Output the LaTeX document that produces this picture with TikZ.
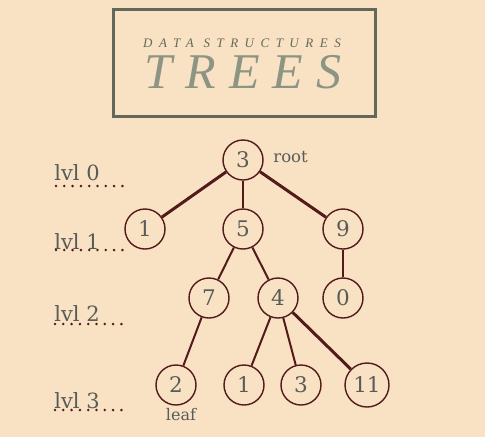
\documentclass[tikz,border=0pt]{standalone}
\usepackage{fontspec}
\setmainfont{DejaVu Serif}
\newfontfamily\titlefont[LetterSpace=50]{Liberation Serif}
\definecolor{paper}{RGB}{249,226,196}
\definecolor{ink}{RGB}{88,92,88}
\definecolor{edge}{RGB}{82,26,26}
\definecolor{frame}{RGB}{100,104,88}
\definecolor{sage}{RGB}{140,148,132}
\tikzset{every picture/.style={line width=0.75pt}}

\begin{document}
\begin{tikzpicture}[x=1pt,y=1pt,yscale=-1,xscale=1,
    vertex/.style={circle,draw=edge,line width=1.4,minimum size=40,inner sep=0pt,text=ink,font=\fontsize{21.5}{21.5}\selectfont},
    thin edge/.style={draw=edge,line width=1.2},
    mid edge/.style={draw=edge,line width=2},
    thick edge/.style={draw=edge,line width=3},
    lvl/.style={anchor=base west,inner sep=0pt,text=ink,font=\fontsize{21}{21}\selectfont},
    dots/.style={draw=edge,line width=2.8,line cap=round,dash pattern=on 0pt off 8.3pt}]
    %set diagram size to the reference
    \useasboundingbox[fill=paper] (0,0) rectangle (485,437);

    %Shape: Title frame
    \draw [frame,line width=3] (113,9) rectangle (375,116);
    % Text Node
    \node (sub) [inner sep=0pt,text=frame] at (242,43) {\titlefont\fontsize{13}{13}\selectfont\itshape DATA STRUCTURES};
    % Text Node
    \node (title) [inner sep=0pt,text=sage] at (243,72) {\titlefont\addfontfeatures{LetterSpace=26}\fontsize{50}{50}\selectfont\itshape TREES};

    %Tree vertices
    \node (n3)  [vertex] at (243,160) {3};
    \node (n1)  [vertex] at (145,229) {1};
    \node (n5)  [vertex] at (243,229) {5};
    \node (n9)  [vertex] at (343,229) {9};
    \node (n7)  [vertex] at (209,298) {7};
    \node (n4)  [vertex] at (278,298) {4};
    \node (n0)  [vertex] at (343,298) {0};
    \node (n2)  [vertex] at (176,385) {2};
    \node (n1b) [vertex] at (244,385) {1};
    \node (n3b) [vertex] at (301,385) {3};
    \node (n11) [vertex,minimum size=44] at (367,385) {11};

    %Tree edges
    \draw [thick edge] (n3) -- (n1);
    \draw [thin edge]  (n3) -- (n5);
    \draw [thick edge] (n3) -- (n9);
    \draw [mid edge]   (n5) -- (n7);
    \draw [mid edge]   (n5) -- (n4);
    \draw [thin edge]  (n9) -- (n0);
    \draw [mid edge]   (n7) -- (n2);
    \draw [mid edge]   (n4) -- (n1b);
    \draw [mid edge]   (n4) -- (n3b);
    \draw [thick edge] (n4) -- (n11);

    % Text Node
    \node (root) [anchor=west,inner sep=0pt,text=ink,font=\fontsize{16.5}{16.5}\selectfont] at (273,157) {root};
    % Text Node
    \node (leaf) [anchor=base,inner sep=0pt,text=ink,font=\fontsize{16}{16}\selectfont] at (181,420) {leaf};

    %Level labels
    \node (l0) [lvl] at (54,180) {lvl 0};
    \node (l1) [lvl] at (54,249) {lvl 1};
    \node (l2) [lvl] at (54,321) {lvl 2};
    \node (l3) [lvl] at (54,408) {lvl 3};
    \coordinate (d0a) at (56,186); \coordinate (d0b) at (124,186);
    \coordinate (d1a) at (56,250); \coordinate (d1b) at (124,250);
    \coordinate (d2a) at (55,324); \coordinate (d2b) at (124,324);
    \coordinate (d3a) at (55,410); \coordinate (d3b) at (124,410);
    \draw [dots] (d0a) -- (d0b);
    \draw [dots] (d1a) -- (d1b);
    \draw [dots] (d2a) -- (d2b);
    \draw [dots] (d3a) -- (d3b);
\end{tikzpicture}
\end{document}
